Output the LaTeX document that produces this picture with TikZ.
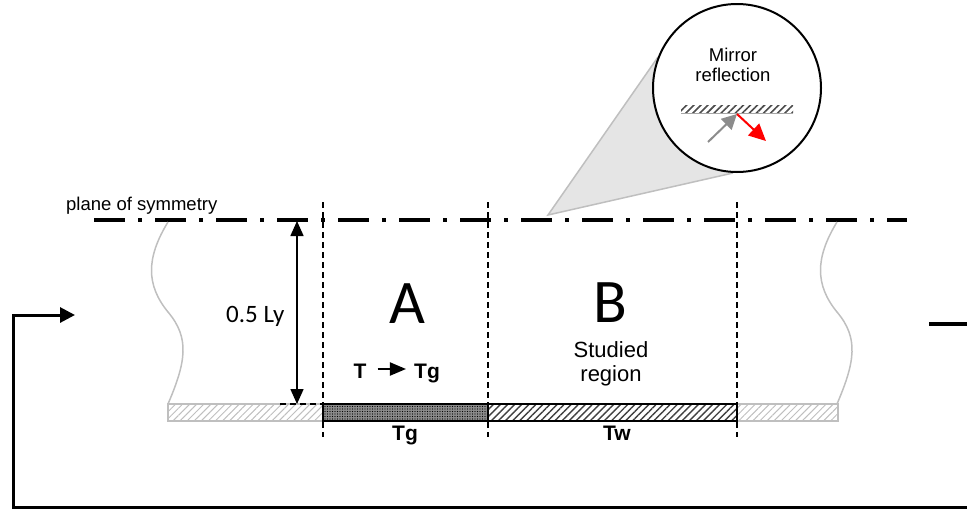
\documentclass[tikz,border=0pt]{standalone}
\usepackage{fontspec}
\setmainfont{Liberation Sans}
\newfontfamily\calibrifont{Carlito}
\usetikzlibrary{arrows.meta,patterns.meta,calc}

\begin{document}
\begin{tikzpicture}[x=1pt,y=-1pt,
  txt/.style={inner sep=0pt,font=\fontsize{18.5}{20}\selectfont,align=center},
  bigtxt/.style={inner sep=0pt,font=\fontsize{22}{24}\selectfont,align=center},
  zonetxt/.style={inner sep=0pt,font=\calibrifont\fontsize{62}{62}\selectfont},
  dimtxt/.style={inner sep=0pt,font=\calibrifont\fontsize{25}{25}\selectfont},
  boldtxt/.style={inner sep=0pt,font=\bfseries\fontsize{21}{21}\selectfont},
  symline/.style={line width=4pt,dash pattern=on 31pt off 13pt on 4pt off 13pt},
  divline/.style={line width=1.4pt,dash pattern=on 6pt off 4pt},
  wave/.style={draw=black!25,line width=1.5pt},
  flowline/.style={line width=3pt},
  bighead/.style={-{Triangle[length=15pt,width=15pt]}},
  dimhead/.style={{Triangle[length=15pt,width=13pt]}-{Triangle[length=15pt,width=13pt]},line width=1.6pt},
  greywall/.style={draw=black!25,line width=1.5pt,
    pattern={Lines[angle=45,distance=5pt,line width=1pt]},pattern color=black!25},
  hatchwall/.style={draw=black,line width=2pt,
    pattern={Lines[angle=45,distance=5pt,line width=1.4pt]},pattern color=black!75},
  dotwall/.style={draw=black,line width=2pt,fill=black!45,
    postaction={pattern={Dots[distance=2.5pt,radius=0.7pt]},pattern color=black}},
  conefill/.style={fill=black!8,
    postaction={pattern={Dots[distance=2pt,radius=0.45pt]},pattern color=black!35}},
]
\useasboundingbox (0,0) rectangle (967,509);

% magnifier: cone from the symmetry plane to the lens
\coordinate (apex) at (548,215);
\coordinate (coneA) at (658,57);
\coordinate (coneB) at (733,173);
\path[conefill] (apex) -- (coneA) -- (coneB) -- cycle;
\draw[black!25,line width=1.5pt] (coneA) -- (apex) -- (coneB);
\node[circle,draw,line width=2pt,fill=white,minimum size=168pt,inner sep=0pt] (lens) at (737,88) {};
\node[txt] (mirror) at (733,65) {Mirror\\reflection};
\path[pattern={Lines[angle=45,distance=5pt,line width=1.6pt]},pattern color=black!70]
  (681,105) rectangle (793,113);
\draw[black!35,line width=0.8pt] (681,113) -- (793,113);
\coordinate (hit) at (737,114);
\coordinate (incoming) at (708,142);
\coordinate (outgoing) at (766,141);
\draw[bighead,draw=black!45,fill=black!45,line width=2pt] (incoming) -- (hit);
\draw[-{Triangle[length=17pt,width=16pt]},draw=red,fill=red,line width=2pt] (hit) -- (outgoing);

% plane of symmetry
\coordinate (symL) at (94,220);
\coordinate (symR) at (907,220);
\draw[symline] (symL) -- (symR);
\node[txt,anchor=base west] (symlabel) at (66,210) {plane of symmetry};

% region boundaries
\draw[divline] (323,202) -- (323,437);
\draw[divline] (488,202) -- (488,437);
\draw[divline] (737,202) -- (737,437);

% break lines of the channel
\draw[wave] (168,222) .. controls (146,258) and (146,285) .. (168,312)
  .. controls (190,338) and (186,362) .. (168,404);
\draw[wave] (837,222) .. controls (815,258) and (815,285) .. (837,312)
  .. controls (859,338) and (855,362) .. (837,404);

% wall
\draw[greywall] (168,404) rectangle (323,421);
\draw[greywall] (737,404) rectangle (838,421);
\draw[dotwall] (323,404) rectangle (488,421);
\draw[hatchwall] (488,404) rectangle (737,421);

% half-height dimension
\coordinate (dimtop) at (297,221);
\coordinate (dimbot) at (297,404);
\draw[dimhead] (dimtop) -- (dimbot);
\draw[line width=1.4pt,dash pattern=on 6pt off 4pt] (280,404) -- (323,404);
\node[dimtxt,anchor=base west] (half) at (226,322) {0.5 Ly};

% zone labels
\node[zonetxt] (zoneA) at (407,304) {A};
\node[zonetxt] (zoneB) at (610,303) {B};
\node[bigtxt] (studied) at (611,364) {Studied\\region};
\node[boldtxt,anchor=base] (Tin) at (360,378) {T};
\node[boldtxt,anchor=base] (Tout) at (427,378) {Tg};
\draw[-{Triangle[length=16pt,width=13pt]},line width=2pt]
  ($(Tin.base east)+(11,-9)$) -- ($(Tout.base west)+(-8,-9)$);
\node[boldtxt,anchor=base] (Tglabel) at (405,440) {Tg};
\node[boldtxt,anchor=base] (Twlabel) at (617,440) {Tw};

% recirculation path
\coordinate (inlet) at (75,315);
\coordinate (turn) at (13,315);
\coordinate (lowL) at (13,507);
\coordinate (lowR) at (968,507);
\draw[flowline,bighead] (lowR) -- (lowL) -- (turn) -- (inlet);
\coordinate (outA) at (929,324);
\coordinate (outB) at (968,324);
\draw[flowline,line width=4pt] (outA) -- (outB);
\end{tikzpicture}
\end{document}
